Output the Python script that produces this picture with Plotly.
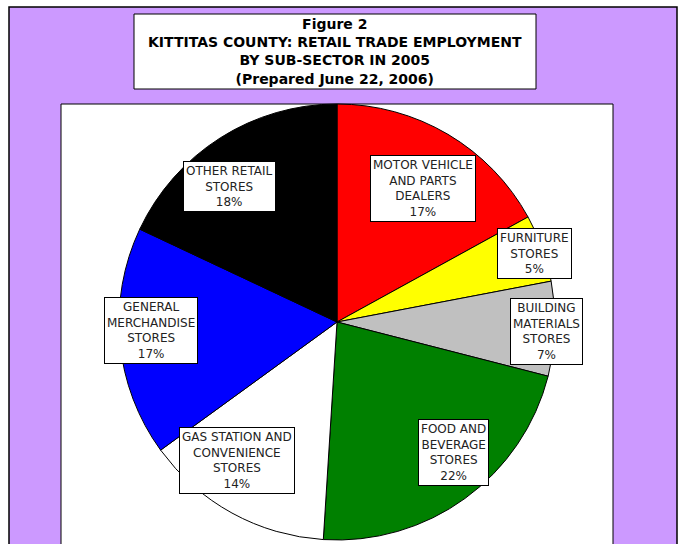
import plotly.graph_objects as go

W, H = 679, 544

# Data
sectors = [
    "MOTOR VEHICLE<br>AND PARTS<br>DEALERS",
    "FURNITURE<br>STORES",
    "BUILDING<br>MATERIALS<br>STORES",
    "FOOD AND<br>BEVERAGE<br>STORES",
    "GAS STATION AND<br>CONVENIENCE<br>STORES",
    "GENERAL<br>MERCHANDISE<br>STORES",
    "OTHER RETAIL<br>STORES",
]
shares = [17, 5, 7, 22, 14, 17, 18]
colors = ["#FF0000", "#FFFF00", "#C0C0C0", "#008000", "#FFFFFF", "#0000FF", "#000000"]

# label box centres, in pixels (x, y from top)
label_pos = [(423, 188), (534, 253), (546, 331), (454, 452), (237, 460), (151, 330), (229, 186)]


def px(x):
    return x / W


def py(y):
    return 1 - y / H


fig = go.Figure()

fig.add_trace(go.Pie(
    values=shares,
    labels=[s.replace("<br>", " ") for s in sectors],
    sort=False,
    direction="clockwise",
    rotation=0,
    marker=dict(colors=colors, line=dict(color="#000000", width=1)),
    textinfo="none",
    hoverinfo="label+percent",
    showlegend=False,
    domain=dict(x=[px(119), px(555)], y=[py(540), py(104)]),
))

shapes = [
    # purple chart area
    dict(type="rect", xref="paper", yref="paper",
         x0=px(9), x1=px(677), y0=py(560), y1=py(7),
         fillcolor="#CC99FF", line=dict(color="#000000", width=1.5), layer="below"),
    # white plot area
    dict(type="rect", xref="paper", yref="paper",
         x0=px(61), x1=px(613), y0=py(560), y1=py(104),
         fillcolor="#FFFFFF", line=dict(color="#000000", width=1), layer="below"),
    # title box
    dict(type="rect", xref="paper", yref="paper",
         x0=px(134), x1=px(536), y0=py(89), y1=py(14),
         fillcolor="#FFFFFF", line=dict(color="#000000", width=1), layer="below"),
]

title_lines = ["Figure 2", "KITTITAS COUNTY: RETAIL TRADE EMPLOYMENT",
               "BY SUB-SECTOR IN 2005", "(Prepared June 22, 2006)"]

annotations = [dict(
    text="<br>".join(f"<b>{t}</b>" for t in title_lines),
    xref="paper", yref="paper", x=px(335), y=py(51),
    showarrow=False, xanchor="center", yanchor="middle",
    font=dict(family="DejaVu Sans", size=14, color="#000000"),
)]

for name, val, (lx, ly) in zip(sectors, shares, label_pos):
    annotations.append(dict(
        text=f"{name}<br>{val}%",
        xref="paper", yref="paper", x=px(lx), y=py(ly),
        showarrow=False, xanchor="center", yanchor="middle",
        bgcolor="#FFFFFF", bordercolor="#000000", borderwidth=1, borderpad=2,
        font=dict(family="DejaVu Sans", size=12, color="#222222"),
    ))

fig.update_layout(
    width=W, height=H,
    margin=dict(l=0, r=0, t=0, b=0),
    paper_bgcolor="#FFFFFF",
    plot_bgcolor="#FFFFFF",
    shapes=shapes,
    annotations=annotations,
)

# page has a default body margin, drop it so the figure sits at 0,0
fig.write_html("out.html", config={"displayModeBar": False},
               post_script="document.body.style.margin='0';")
